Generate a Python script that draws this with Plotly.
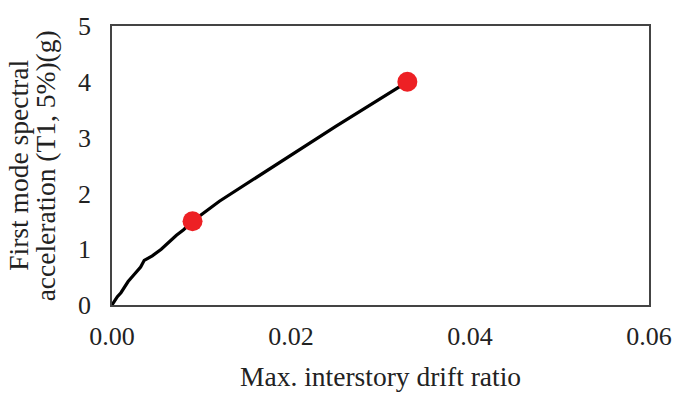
import plotly.graph_objects as go

drift = [0, 0.0003, 0.0006, 0.0010, 0.0013, 0.0018, 0.0025, 0.0032, 0.0036,
         0.0045, 0.0055, 0.0065, 0.0072, 0.0080, 0.0090, 0.0120, 0.0180,
         0.0250, 0.0330]
sa = [0, 0.08, 0.15, 0.22, 0.30, 0.42, 0.55, 0.68, 0.80,
      0.88, 1.00, 1.15, 1.25, 1.35, 1.50, 1.86, 2.48, 3.20, 4.00]

pt_drift = [0.009, 0.033]
pt_sa = [1.5, 4.0]

x_ticks = [0, 0.02, 0.04, 0.06]
x_labels = ["0.00", "0.02", "0.04", "0.06"]
y_ticks = [0, 1, 2, 3, 4, 5]

x_title = "Max. interstory drift ratio"
y_title_lines = ["First mode spectral", "acceleration (T1, 5%)(g)"]

font = "Liberation Serif, Times New Roman, serif"
fs = 26
tfs = 27.5

fig = go.Figure()
fig.add_trace(go.Scatter(x=drift, y=sa, mode="lines",
                         line=dict(color="black", width=3.2), showlegend=False))
fig.add_trace(go.Scatter(x=pt_drift, y=pt_sa, mode="markers",
                         marker=dict(color="#ED2024", size=20), showlegend=False))

fig.update_layout(
    width=684, height=397,
    margin=dict(l=112, r=28, t=17, b=92),
    paper_bgcolor="white", plot_bgcolor="white",
    font=dict(family=font, size=fs, color="#222"),
    xaxis=dict(range=[0, 0.06], tickvals=x_ticks, ticktext=x_labels,
               showgrid=False, zeroline=False, showline=True, mirror=True,
               linecolor="#444", linewidth=1.5, ticks="", ticklabelstandoff=7),
    yaxis=dict(range=[0, 5], tickvals=y_ticks,
               showgrid=False, zeroline=False, showline=True, mirror=True,
               linecolor="#444", linewidth=1.5, ticks="", ticklabelstandoff=14),
)
fig.add_annotation(text=x_title, xref="paper", yref="paper", x=0.5, y=-0.255,
                   showarrow=False, font=dict(size=tfs), yanchor="middle")
for i, (txt, px) in enumerate(zip(y_title_lines, [17, 45])):
    fig.add_annotation(text=txt, xref="paper", yref="paper",
                       x=(px - 112) / (684 - 112 - 28), y=0.5, textangle=-90,
                       showarrow=False, font=dict(size=tfs),
                       xanchor="center", yanchor="middle")
fig.write_html("out.html")
